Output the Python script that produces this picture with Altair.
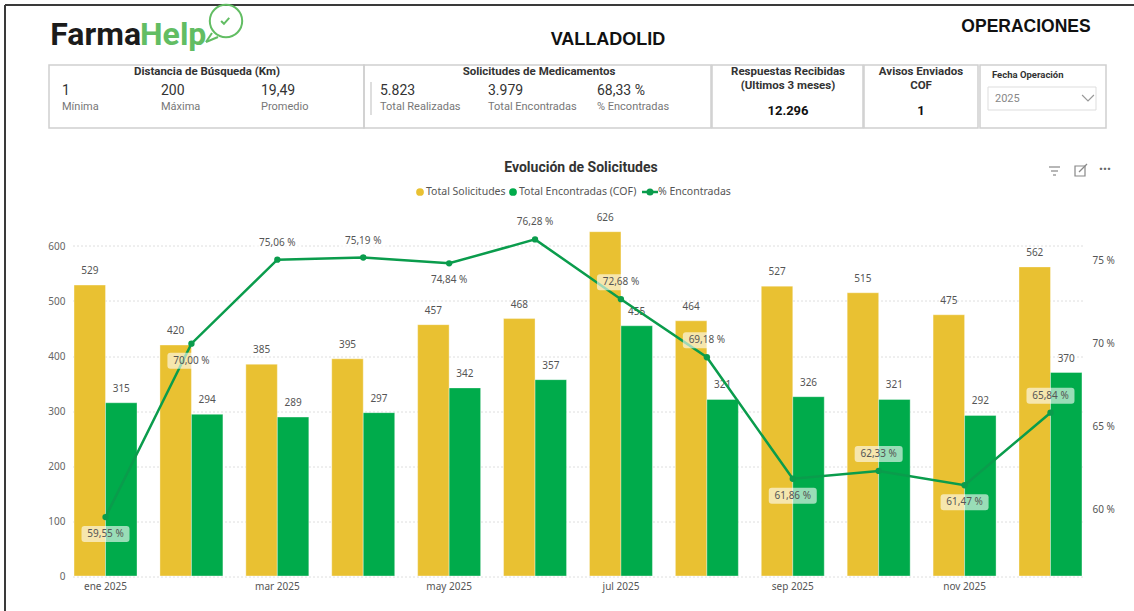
import altair as alt
import pandas as pd

# ---------------- data ----------------
months = ["ene 2025", "feb 2025", "mar 2025", "abr 2025", "may 2025", "jun 2025",
          "jul 2025", "ago 2025", "sep 2025", "oct 2025", "nov 2025", "dic 2025"]
total_solicitudes = [529, 420, 385, 395, 457, 468, 626, 464, 527, 515, 475, 562]
total_encontradas = [315, 294, 289, 297, 342, 357, 455, 321, 326, 321, 292, 370]
pct_encontradas = [59.55, 70.00, 75.06, 75.19, 74.84, 76.28, 72.68, 69.18, 61.86, 62.33, 61.47, 65.84]
pct_label_side = ["below", "below", "above", "above", "below", "above",
                  "above", "above", "below", "above", "below", "above"]
x_tick_labels = ["ene 2025", "mar 2025", "may 2025", "jul 2025", "sep 2025", "nov 2025"]
series_names = ["Total Solicitudes", "Total Encontradas (COF)"]
pct_series_name = "% Encontradas"
left_ticks = [0, 100, 200, 300, 400, 500, 600]
right_ticks = [60, 65, 70, 75]

YELLOW = "#E9C132"
GREEN = "#00AB4B"
LINE_GREEN = "#0A9C4C"
LOGO_GREEN = "#62BD63"

FONT = "Noto Sans"
KFONT = "Roboto"

# ---------------- tables ----------------
bars_df = pd.DataFrame({
    "mes": months * 2,
    "serie": [series_names[0]] * 12 + [series_names[1]] * 12,
    "valor": total_solicitudes + total_encontradas,
})
line_df = pd.DataFrame({
    "mes": months,
    "pct": pct_encontradas,
    "lado": pct_label_side,
    "etiqueta": [f"{v:.2f}".replace(".", ",") + " %" for v in pct_encontradas],
})

# plot area placement on the page
OX, OY = 73, 218.5
W, H = 1010, 357.5

x_enc = alt.X("mes:N", sort=months, title=None,
              scale=alt.Scale(paddingInner=0.267, paddingOuter=0.012),
              axis=alt.Axis(values=x_tick_labels, labelAngle=0, ticks=False, domain=False,
                            labelColor="#555", labelFontSize=10, labelFont=FONT,
                            labelPadding=5, grid=False))
xoff = alt.XOffset("serie:N", sort=series_names, scale=alt.Scale(paddingInner=0, paddingOuter=0))
yL_scale = alt.Scale(domain=[0, 650], nice=False, zero=True)
yR_scale = alt.Scale(domain=[56, 77.54], nice=False, zero=False)

bars = alt.Chart(bars_df).mark_bar(stroke="white", strokeWidth=0.6, strokeOpacity=0.6).encode(
    x=x_enc,
    xOffset=xoff,
    y=alt.Y("valor:Q", scale=yL_scale, title=None,
            axis=alt.Axis(orient="left", values=left_ticks, ticks=False, domain=False,
                          grid=True, gridDash=[1, 3], gridColor="#BDBDBD", gridWidth=1,
                          labelColor="#666", labelFontSize=10, labelFont=FONT, labelPadding=8)),
    color=alt.Color("serie:N", scale=alt.Scale(domain=series_names, range=[YELLOW, GREEN]), legend=None),
)

bar_labels = alt.Chart(bars_df).mark_text(fontSize=10, font=FONT, color="#555", baseline="middle", dy=-14).encode(
    x=alt.X("mes:N", sort=months),
    xOffset=xoff,
    y=alt.Y("valor:Q", scale=yL_scale, axis=None),
    text=alt.Text("valor:Q"),
)

line = alt.Chart(line_df).mark_line(color=LINE_GREEN, strokeWidth=2.5).encode(
    x=alt.X("mes:N", sort=months),
    y=alt.Y("pct:Q", scale=yR_scale, title=None,
            axis=alt.Axis(orient="right", values=right_ticks, ticks=False, domain=False, grid=False,
                          labelExpr="datum.value + ' %'", labelColor="#555", labelFontSize=10,
                          labelFont=FONT, labelPadding=9)),
)
pts = alt.Chart(line_df).mark_point(filled=True, color=LINE_GREEN, size=40, opacity=1).encode(
    x=alt.X("mes:N", sort=months),
    y=alt.Y("pct:Q", scale=yR_scale, axis=None),
)

BOX_UP = ("M-0.875,-1.042 L0.875,-1.042 Q1,-1.042 1,-0.917 L1,-0.5 Q1,-0.375 0.875,-0.375 "
          "L-0.875,-0.375 Q-1,-0.375 -1,-0.5 L-1,-0.917 Q-1,-1.042 -0.875,-1.042 Z")
BOX_DN = ("M-0.875,0.375 L0.875,0.375 Q1,0.375 1,0.5 L1,0.917 Q1,1.042 0.875,1.042 "
          "L-0.875,1.042 Q-1,1.042 -1,0.917 L-1,0.5 Q-1,0.375 -0.875,0.375 Z")

def pct_labels(side, path, dy):
    base = alt.Chart(line_df).transform_filter(alt.datum.lado == side)
    box = base.mark_point(shape=path, filled=True, fill="white", fillOpacity=0.6,
                          strokeWidth=0, size=2304).encode(
        x=alt.X("mes:N", sort=months),
        y=alt.Y("pct:Q", scale=yR_scale, axis=None),
    )
    txt = base.mark_text(fontSize=10, font=FONT, color="#555", baseline="middle", dy=dy).encode(
        x=alt.X("mes:N", sort=months),
        y=alt.Y("pct:Q", scale=yR_scale, axis=None),
        text="etiqueta:N",
    )
    return [box, txt]

lab_layers = pct_labels("above", BOX_UP, -17) + pct_labels("below", BOX_DN, 17)

# ---------------- decorations (page pixel positions) ----------------
one = pd.DataFrame({"k": [0]})

def T(s, x, y, size=11, weight="normal", color="#333", align="left", font=KFONT, baseline="middle"):
    return alt.Chart(one).mark_text(text=s, fontSize=size, fontWeight=weight, color=color,
                                    align=align, baseline=baseline, font=font).encode(
        x=alt.value(x - OX), y=alt.value(y - OY))

def R(x1, y1, x2, y2, color="#D0D0D0", sw=1.5):
    return alt.Chart(one).mark_rect(fillOpacity=0, stroke=color, strokeWidth=sw).encode(
        x=alt.value(x1 - OX), x2=alt.value(x2 - OX), y=alt.value(y1 - OY), y2=alt.value(y2 - OY))

def L(x1, y1, x2, y2, color="#333", sw=1):
    return alt.Chart(one).mark_rule(color=color, strokeWidth=sw).encode(
        x=alt.value(x1 - OX), x2=alt.value(x2 - OX), y=alt.value(y1 - OY), y2=alt.value(y2 - OY))

def P(x, y, shape, size, color, filled=True, sw=1.5):
    if filled:
        m = alt.Chart(one).mark_point(shape=shape, size=size, filled=True, color=color, opacity=1)
    else:
        m = alt.Chart(one).mark_point(shape=shape, size=size, filled=False, color=color,
                                      strokeWidth=sw, opacity=1)
    return m.encode(x=alt.value(x - OX), y=alt.value(y - OY))

deco = []
# page frame (top & left)
deco += [L(5, 5, 1134, 5, "#3a3a3a", 2), L(5, 5, 5, 611, "#3a3a3a", 2)]
# logo
deco += [T("Farma", 141, 45, 32, "bold", "#1b1b1b", "right", KFONT, "alphabetic"),
         T("Help", 140, 45, 32, "bold", LOGO_GREEN, "left", KFONT, "alphabetic")]
deco += [P(226, 21, "circle", 1050, LOGO_GREEN, filled=False, sw=2),
         L(212, 33, 206, 42, LOGO_GREEN, 2), L(206, 42, 218, 37, LOGO_GREEN, 2),
         P(225, 21, "M-0.55,0 L-0.15,0.4 L0.6,-0.45", 200, LOGO_GREEN, filled=False, sw=2)]
# titles
deco += [T("VALLADOLID", 608, 40, 18, "bold", "#111", "center", "Liberation Sans"),
         T("OPERACIONES", 1026, 27, 17.5, "bold", "#111", "center", "Liberation Sans")]
# KPI boxes
deco += [R(49, 65, 364, 128), R(364, 65, 711, 128), R(712, 65, 863, 128),
         R(864, 65, 978, 128), R(980, 65, 1106, 128)]
deco += [T("Distancia de Búsqueda (Km)", 207, 72, 11.5, "bold", "#333", "center"),
         T("1", 62, 91, 14, "normal", "#333"), T("Mínima", 62, 107, 11, "normal", "#777"),
         T("200", 161, 91, 14, "normal", "#333"), T("Máxima", 161, 107, 11, "normal", "#777"),
         T("19,49", 261, 91, 14, "normal", "#333"), T("Promedio", 261, 107, 11, "normal", "#777")]
deco += [T("Solicitudes de Medicamentos", 539, 72, 11.5, "bold", "#333", "center"),
         L(371, 82, 371, 115, "#BDBDBD", 1),
         T("5.823", 380, 91, 14, "normal", "#333"), T("Total Realizadas", 380, 107, 11, "normal", "#777"),
         T("3.979", 488, 91, 14, "normal", "#333"), T("Total Encontradas", 488, 107, 11, "normal", "#777"),
         T("68,33 %", 597, 91, 14, "normal", "#333"), T("% Encontradas", 597, 107, 11, "normal", "#777")]
deco += [T("Respuestas Recibidas", 788, 72, 11.5, "bold", "#333", "center"),
         T("(Ultimos 3 meses)", 788, 86, 11.5, "bold", "#333", "center"),
         T("12.296", 788, 111, 13, "bold", "#111", "center")]
deco += [T("Avisos Enviados", 921, 72, 11.5, "bold", "#333", "center"),
         T("COF", 921, 86, 11.5, "bold", "#333", "center"),
         T("1", 921, 111, 13, "bold", "#111", "center")]
deco += [T("Fecha Operación", 992, 75, 9.5, "bold", "#333", "left"),
         R(988, 87, 1096, 110, "#DDDDDD", 1),
         T("2025", 995, 99, 11, "normal", "#888", "left"),
         P(1088, 98, "M-1,-0.5 L0,0.5 L1,-0.5", 140, "#999", filled=False, sw=1.2)]
# chart title & legend
deco += [T("Evolución de Solicitudes", 581, 168, 14, "bold", "#333", "center"),
         P(420, 192, "circle", 60, YELLOW), T("Total Solicitudes", 426, 192, 10.5, "normal", "#555", "left", FONT),
         P(513, 192, "circle", 60, GREEN), T("Total Encontradas (COF)", 519, 192, 10.5, "normal", "#555", "left", FONT),
         L(642, 192, 658, 192, LINE_GREEN, 2.5), P(650, 192, "circle", 50, LINE_GREEN),
         T("% Encontradas", 658, 192, 10.5, "normal", "#555", "left", FONT)]
# visual header icons
deco += [L(1049, 167, 1060, 167, "#888", 1.2), L(1051, 171, 1058, 171, "#888", 1.2),
         L(1053, 175, 1056, 175, "#888", 1.2),
         R(1075, 166, 1085, 176, "#888", 1.2),
         L(1079, 172, 1087, 164, "#888", 1.2),
         T("···", 1105, 170, 14, "bold", "#666", "center", FONT)]

chart = alt.layer(bars, bar_labels, line, pts, *lab_layers, *deco).resolve_scale(
    y="independent"
).properties(
    width=W, height=H,
    padding={"left": OX, "top": OY, "right": 1134 - OX - W, "bottom": 611 - OY - H},
    autosize="none",
    background="white",
).configure_view(stroke=None)

chart.save("out.html", embed_options={"renderer": "svg", "actions": False})
